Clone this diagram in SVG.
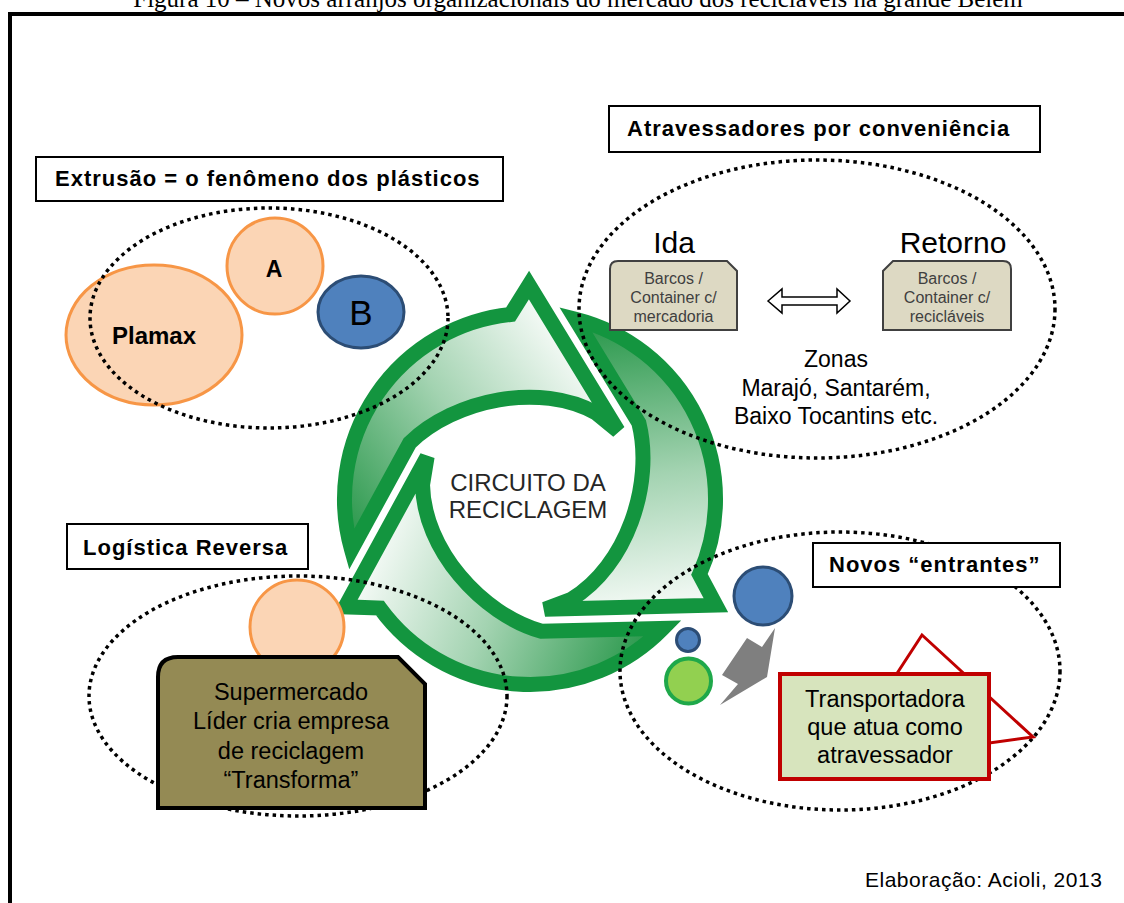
<svg xmlns="http://www.w3.org/2000/svg" xmlns:xlink="http://www.w3.org/1999/xlink" width="1124" height="903" viewBox="0 0 1124 903">
  <style>
    .sans { font-family: "Liberation Sans", Arial, sans-serif; }
    .head { font-family: "Liberation Sans", Arial, sans-serif; font-weight: bold; font-size: 22px; fill: #000; letter-spacing: 1px; }
    .tbox { fill: #fff; stroke: #000; stroke-width: 2; }
    .dots { fill: none; stroke: #000; stroke-width: 3.5; stroke-dasharray: 3.5 4; }
    .peach { fill: #fbd5b5; stroke: #f79646; stroke-width: 3; }
    .blue { fill: #4f81bd; stroke: #2c4d75; stroke-width: 3; }
    .tan { fill: #ddd9c3; stroke: #404040; stroke-width: 2; }
    .small { font-family: "Liberation Sans", Arial, sans-serif; font-size: 16px; fill: #3f3f3f; text-anchor: middle; }
    .mid { text-anchor: middle; }
  </style>
  <defs>
    <linearGradient id="gBand" gradientUnits="userSpaceOnUse" x1="-170" y1="40" x2="70" y2="-140">
      <stop offset="0" stop-color="#2e9a4f"/>
      <stop offset="0.5" stop-color="#a3d3b1"/>
      <stop offset="1" stop-color="#ffffff"/>
    </linearGradient>
    <!-- one curved arrow of the cycle, centred on (0,0); the others are rotated copies -->
    <path id="arrow" d="M -178.5 50.5 A 185.5 185.5 0 0 1 -19.4 -184.5 L -1 -214 L 88 -68 L 66 -86 C 10 -117 -75 -100 -120.3 -56.2 Z" fill="url(#gBand)" stroke="#13953f" stroke-width="15"/>
  </defs>

  <rect width="1124" height="903" fill="#fff"/>

  <!-- caption, cut by the page edge -->
  <text x="578" y="7" class="mid" font-family="Liberation Serif, 'Times New Roman', serif" font-size="25">Figura 10 – Novos arranjos organizacionais do mercado dos recicláveis na grande Belém</text>

  <!-- frame -->
  <path d="M10 903 V14 H1124" fill="none" stroke="#000" stroke-width="4"/>

  <!-- recycling circuit -->
  <g id="recycle">
    <use xlink:href="#arrow" transform="translate(530 499)"/>
    <use xlink:href="#arrow" transform="translate(530 499) rotate(120)"/>
    <use xlink:href="#arrow" transform="translate(530 499) rotate(240)"/>
    <text class="sans mid" font-size="24" fill="#262626"><tspan x="528" y="491">CIRCUITO DA</tspan><tspan x="528" y="518">RECICLAGEM</tspan></text>
  </g>

  <!-- extrusion group -->
  <g id="extrusao">
    <ellipse class="peach" cx="154" cy="335" rx="88" ry="70"/>
    <circle class="peach" cx="275" cy="266" r="48"/>
    <ellipse class="blue" cx="361" cy="312" rx="43" ry="36"/>
    <ellipse class="dots" cx="269" cy="318" rx="179" ry="110"/>
    <text x="154" y="344" class="sans mid" font-size="24" font-weight="bold">Plamax</text>
    <text x="274" y="277" class="sans mid" font-size="23" font-weight="bold">A</text>
    <text x="361" y="325" class="sans mid" font-size="35">B</text>
    <rect class="tbox" x="36" y="157" width="467" height="44"/>
    <text x="55" y="186" class="head">Extrusão = o fenômeno dos plásticos</text>
  </g>

  <!-- middlemen group -->
  <g id="atravessadores">
    <ellipse class="dots" cx="817" cy="309" rx="238" ry="149"/>
    <rect class="tbox" x="609" y="106" width="431" height="46"/>
    <text x="627" y="136" class="head">Atravessadores por conveniência</text>
    <text x="674" y="253" class="sans mid" font-size="30">Ida</text>
    <text x="953" y="253" class="sans mid" font-size="30">Retorno</text>
    <path class="tan" d="M618 261 H727 L737 271 V330 H610 V269 Q610 261 618 261 Z"/>
    <text class="small"><tspan x="673.5" y="284">Barcos /</tspan><tspan x="673.5" y="303">Container c/</tspan><tspan x="673.5" y="322">mercadoria</tspan></text>
    <path class="tan" d="M893 261 H1003 Q1011 261 1011 269 V330 H883 V271 Z"/>
    <text class="small"><tspan x="947" y="284">Barcos /</tspan><tspan x="947" y="303">Container c/</tspan><tspan x="947" y="322">recicláveis</tspan></text>
    <polygon points="768,301 782,289 782,297 837,297 837,289 850,301 837,313 837,305 782,305 782,313" fill="#fff" stroke="#000" stroke-width="1.5"/>
    <text class="sans mid" font-size="23" fill="#000"><tspan x="836" y="367">Zonas</tspan><tspan x="836" y="396">Marajó, Santarém,</tspan><tspan x="836" y="424">Baixo Tocantins etc.</tspan></text>
  </g>

  <!-- reverse logistics group -->
  <g id="logistica">
    <circle class="peach" cx="297" cy="627" r="47"/>
    <ellipse class="dots" cx="298" cy="696" rx="209" ry="120"/>
    <path d="M178 657 H398 L425 684 V808 H158 V677 Q158 657 178 657 Z" fill="#948a54" stroke="#000" stroke-width="4"/>
    <text class="sans mid" font-size="23.5" fill="#000"><tspan x="291" y="700">Supermercado</tspan><tspan x="291" y="729">Líder cria empresa</tspan><tspan x="291" y="759">de reciclagem</tspan><tspan x="291" y="788">“Transforma”</tspan></text>
    <rect class="tbox" x="67" y="524" width="241" height="45"/>
    <text x="83" y="555" class="head">Logística Reversa</text>
  </g>

  <!-- new entrants group -->
  <g id="entrantes">
    <circle class="blue" cx="763" cy="596" r="29"/>
    <circle class="blue" cx="688" cy="640" r="11.5"/>
    <circle cx="688.5" cy="681" r="22.5" fill="#92d050" stroke="#1fa84a" stroke-width="4"/>
    <polygon points="775,628 762,647 747,638 722,675 738,684 720,705 767,677" fill="#7f7f7f"/>
    <ellipse class="dots" cx="840" cy="671" rx="220" ry="139"/>
    <polygon points="922,635 1033,737 838,764" fill="#fff" stroke="#c00000" stroke-width="3"/>
    <rect x="780" y="674" width="209" height="105" fill="#d7e4bd" stroke="#c00000" stroke-width="4"/>
    <text class="sans mid" font-size="23.5" fill="#000"><tspan x="885" y="707">Transportadora</tspan><tspan x="885" y="735">que atua como</tspan><tspan x="885" y="763">atravessador</tspan></text>
    <rect class="tbox" x="813" y="543" width="247" height="44"/>
    <text x="829" y="572" class="head" letter-spacing="0.3">Novos “entrantes”</text>
  </g>

  <text x="865" y="887" class="sans" font-size="21" letter-spacing="0.5" fill="#000">Elaboração: Acioli, 2013</text>
</svg>
